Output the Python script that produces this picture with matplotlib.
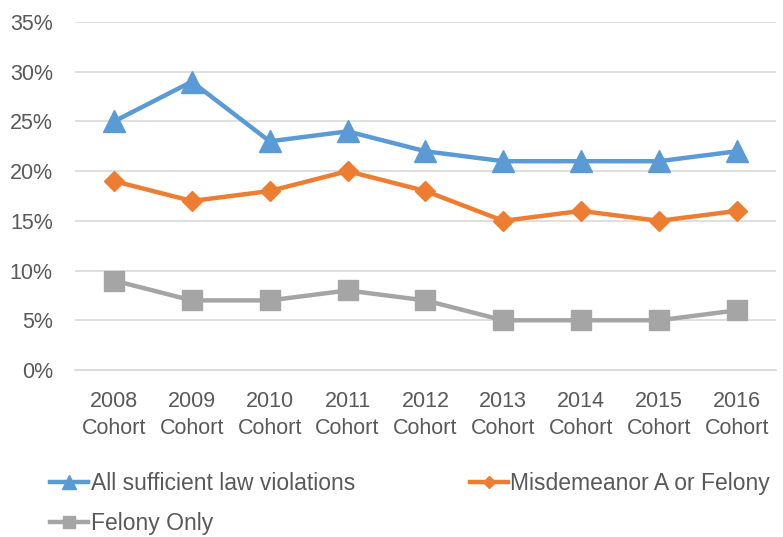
import matplotlib.pyplot as plt
from matplotlib.ticker import PercentFormatter

cohorts = ["2008", "2009", "2010", "2011", "2012", "2013", "2014", "2015", "2016"]
all_violations = [25, 29, 23, 24, 22, 21, 21, 21, 22]
misdemeanor_felony = [19, 17, 18, 20, 18, 15, 16, 15, 16]
felony_only = [9, 7, 7, 8, 7, 5, 5, 5, 6]

text_color = "#595959"
plt.rcParams["font.family"] = ["Liberation Sans", "DejaVu Sans"]

fig = plt.figure(figsize=(7.83, 5.37), dpi=100)
ax = fig.add_axes([0.0958, 0.311, 0.895, 0.648])

x = range(len(cohorts))
h_all, = ax.plot(x, all_violations, color="#5B9BD5", lw=3.2, marker="^", ms=16,
                 label="All sufficient law violations")
h_mis, = ax.plot(x, misdemeanor_felony, color="#ED7D31", lw=3.2, marker="D", ms=10.5,
                 label="Misdemeanor A or Felony")
h_fel, = ax.plot(x, felony_only, color="#A5A5A5", lw=3.2, marker="s", ms=15,
                 label="Felony Only")

ax.set_xlim(-0.5, len(cohorts) - 0.5)
ax.set_ylim(0, 35)
ax.set_yticks(range(0, 36, 5))
ax.yaxis.set_major_formatter(PercentFormatter(decimals=0))
ax.set_xticks(list(x))
ax.set_xticklabels([f"{c}\nCohort" for c in cohorts], linespacing=1.4)

ax.grid(axis="y", color="#D9D9D9", lw=1.2)
ax.set_axisbelow(True)
for side in ["top", "right", "left"]:
    ax.spines[side].set_visible(False)
ax.spines["bottom"].set_color("#D9D9D9")
ax.spines["bottom"].set_linewidth(1.2)
ax.tick_params(length=0, labelsize=15.5, colors=text_color)
ax.tick_params(axis="y", pad=16)
ax.tick_params(axis="x", pad=15)

# two legend columns placed separately so each lines up on its own x
legend_kw = dict(loc="upper left", frameon=False, fontsize=16.5,
                 labelcolor=text_color, handlelength=1.65, handletextpad=0.12,
                 labelspacing=0.72, borderaxespad=0, borderpad=0)
leg1 = fig.legend(handles=[h_all, h_fel], bbox_to_anchor=(0.064, 0.121), **legend_kw)
leg2 = fig.legend(handles=[h_mis], bbox_to_anchor=(0.600, 0.121), **legend_kw)
for leg in (leg1, leg2):
    for line in leg.get_lines():
        line.set_markersize(line.get_markersize() * 0.6)

fig.savefig("out.png", dpi=100)
